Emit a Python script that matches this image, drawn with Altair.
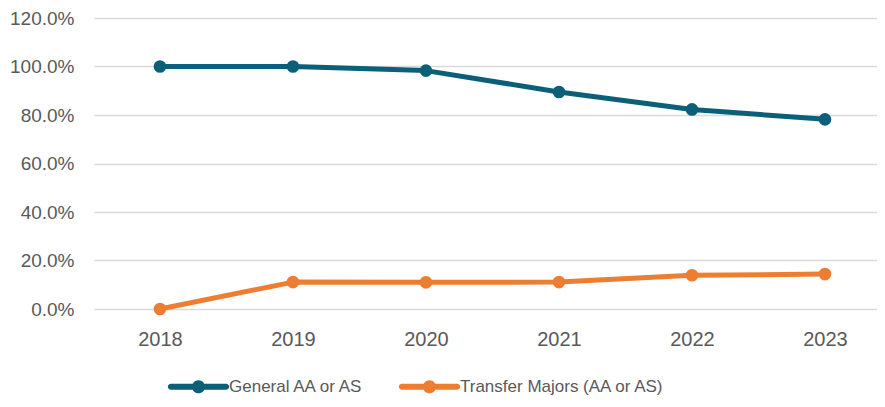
import altair as alt
import pandas as pd

years = [2018, 2019, 2020, 2021, 2022, 2023]
general = [1.000, 1.000, 0.983, 0.895, 0.823, 0.782]
transfer = [0.000, 0.111, 0.110, 0.111, 0.139, 0.144]
series_names = ["General AA or AS", "Transfer Majors (AA or AS)"]
series_colors = ["#0B5F78", "#ED7D31"]
y_ticks = [0, 0.2, 0.4, 0.6, 0.8, 1.0, 1.2]

rows = []
for name, vals in zip(series_names, [general, transfer]):
    for yr, v in zip(years, vals):
        rows.append({"Year": yr, "Value": v, "Series": name})
df = pd.DataFrame(rows)

FONT = "Liberation Sans"
GREY = "#595959"

legend_path = ("M-0.97,-0.105 L0.97,-0.105 A0.105,0.105 0 0,1 0.97,0.105 "
               "L-0.97,0.105 A0.105,0.105 0 0,1 -0.97,-0.105 Z "
               "M0.23,0 A0.23,0.23 0 1,1 -0.23,0 A0.23,0.23 0 1,1 0.23,0 Z")


def make_legend():
    return alt.Legend(title=None, orient="none", direction="horizontal",
                      legendX=76, legendY=340, padding=0,
                      symbolType=legend_path, symbolSize=3249,
                      symbolStrokeWidth=0, labelOffset=2, labelLimit=400,
                      columnPadding=33, labelFontSize=17,
                      labelColor=GREY, labelFont=FONT)


x_enc = alt.X("Year:Q",
              scale=alt.Scale(domain=[2017.504, 2023.391], nice=False, zero=False),
              axis=alt.Axis(title=None, values=years, format="d", labelAngle=0,
                            domain=False, ticks=False, labelPadding=20,
                            labelFontSize=20, labelColor=GREY, labelFont=FONT,
                            grid=False))
y_enc = alt.Y("Value:Q",
              scale=alt.Scale(domain=[0, 1.2], nice=False),
              axis=alt.Axis(title=None, values=y_ticks, format=".1%", domain=False,
                            ticks=False, labelPadding=20, labelFontSize=19,
                            labelColor=GREY, labelFont=FONT, grid=True,
                            gridColor="#D9D9D9", gridWidth=1.5))
color_scale = alt.Scale(domain=series_names, range=series_colors)

lines = alt.Chart(df).mark_line(strokeWidth=5, strokeCap="round", strokeJoin="round").encode(
    x=x_enc, y=y_enc,
    stroke=alt.Stroke("Series:N", scale=color_scale, legend=make_legend()),
    detail="Series:N",
)

points = alt.Chart(df).mark_point(filled=True, size=160, opacity=1).encode(
    x=x_enc, y=y_enc,
    color=alt.Color("Series:N", scale=color_scale, legend=make_legend()),
)

chart = alt.layer(lines, points).properties(
    width=783, height=291,
    autosize=alt.AutoSizeParams(type="none"),
    padding={"left": 86, "top": 10, "right": 0, "bottom": 90},
    background="white",
).configure_view(strokeWidth=0)

chart.save("out.html", embed_options={"renderer": "svg", "actions": False})
